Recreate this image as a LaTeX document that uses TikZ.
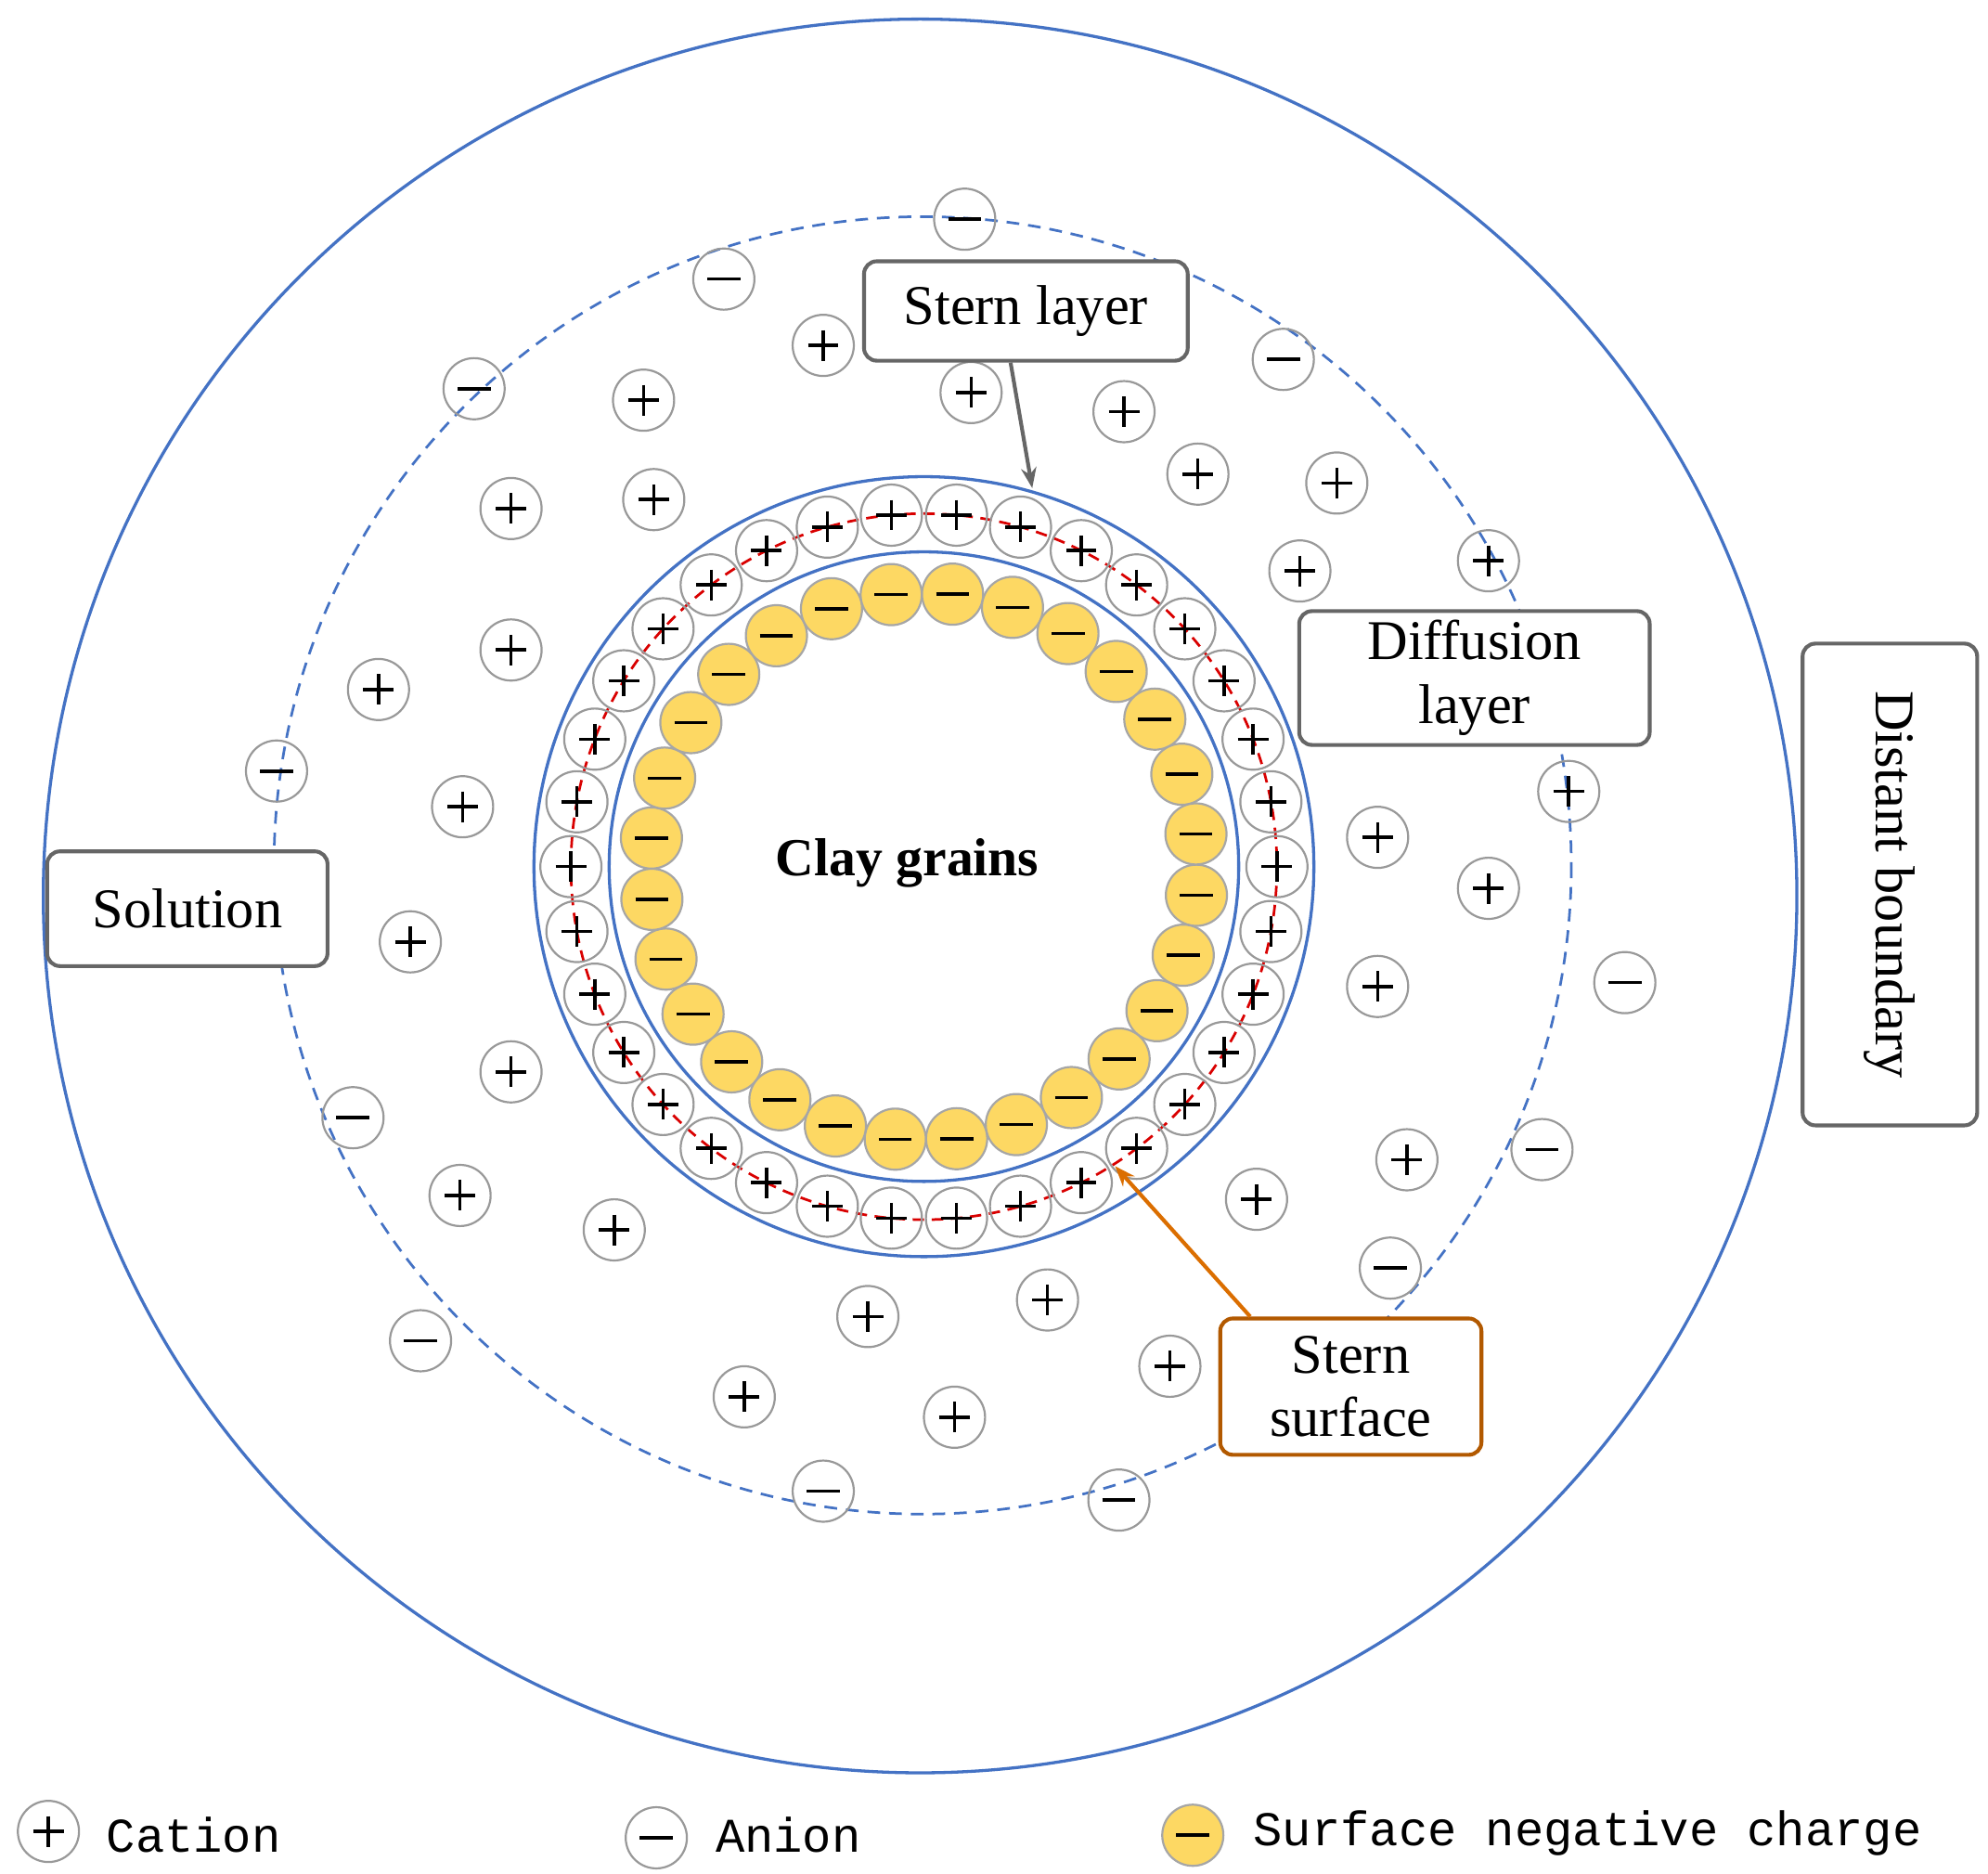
\documentclass[tikz,border=0pt]{standalone}
\usepackage{fontspec}
\usetikzlibrary{arrows.meta}
\setmainfont{Liberation Serif}
\newfontfamily\legfont{Liberation Mono}
\definecolor{bblue}{HTML}{4472C4}
\begin{document}
\begin{tikzpicture}[x=1pt,y=-1pt,
  ion/.style={circle,draw=gray!80,line width=1.6pt,minimum size=48pt,inner sep=0pt},
  surf/.style={circle,draw=gray!70,fill=yellow!55!orange!60,line width=1.6pt,minimum size=48pt,inner sep=0pt},
  sgn/.style={line width=2.6pt,black},
  bl/.style={draw=bblue,line width=2.4pt},
  lab/.style={draw=gray!80!black,rounded corners=10pt,line width=3pt,inner sep=6pt,font=\fontsize{44}{50}\selectfont,align=center}]
\newcommand\mycat[3]{\node[ion](#1) at ({#2},{#3}){};\draw[sgn] (#1.center)++(-12,0)--++(24,0) (#1.center)++(0,-12)--++(0,24);}
\newcommand\myan[3]{\node[ion](#1) at ({#2},{#3}){};\draw[sgn] (#1.center)++(-13,0)--++(26,0);}
\fill[white] (0,0) rectangle (1560,1470);
\useasboundingbox (0,0) rectangle (1560,1470);
\draw[bl] (722,703) circle[radius=688];
\draw[bl,line width=2pt,dash pattern=on 10pt off 7pt] (724,679) circle[radius=509];
\draw[bl] (725,680) circle[radius=306];
\draw[bl] (725,680) circle[radius=247];
\draw[red!85!black,line width=2pt,dash pattern=on 9pt off 6pt] (725,680) circle[radius=277];
\foreach \i in {0,...,33}{
  \pgfmathsetmacro\a{\i*360/34}
  \mycat{r\i}{725+277*cos(\a)}{680+277*sin(\a)}}
\foreach \i in {0,...,27}{
  \pgfmathsetmacro\a{\i*360/28+6}
  \node[surf](s\i) at ({725+215*cos(\a)},{680+215*sin(\a)}){};
  \draw[sgn] (s\i.center)++(-13,0)--++(26,0);}
\node[font=\bfseries\fontsize{42}{46}\selectfont] (clay) at (712,677) {Clay grains};
\foreach \n/\x/\y in {a1/757/172,a2/568/219,a3/372/305,a4/1007/282,a5/217/605,a6/1275/771,a7/277/877,a8/1210/902,a9/1091/995,a10/330/1052,a11/646/1170,a12/878/1177}{\myan{\n}{\x}{\y}}
\foreach \n/\x/\y in {c1/646/271,c2/762/308,c3/505/314,c4/882/323,c5/940/372,c6/1049/379,c7/401/399,c8/513/392,c9/1020/448,c10/1168/440,c11/401/510,c12/297/541,c13/1231/621,c14/363/633,c15/1081/657,c16/1168/697,c17/322/739,c18/1081/774,c19/401/841,c20/1104/910,c21/986/941,c22/361/938,c23/482/965,c24/822/1020,c25/681/1033,c26/918/1072,c27/584/1096,c28/749/1112}{\mycat{\n}{\x}{\y}}
\node[lab,fill=white,minimum width=254pt,minimum height=78pt] (stern) at (805,244) {Stern layer};
\node[lab,fill=white,minimum width=275pt,minimum height=105pt] (diff) at (1157,532) {Diffusion\\layer};
\node[lab,fill=white,minimum width=220pt,minimum height=90pt] (sol) at (147,713) {Solution};
\node[lab,fill=white,minimum width=378pt,minimum height=137pt,rotate=-90] (dist) at (1483,694) {Distant boundary};
\node[lab,draw=orange!70!black,fill=white,minimum width=205pt,minimum height=107pt] (ss) at (1060,1088) {Stern\\surface};
\coordinate (st) at (810,383);
\coordinate (sp) at (875,915);
\draw[gray!80!black,line width=3pt,-{Stealth[length=16pt]}] (stern.south)++(-12,0) -- (st);
\draw[orange!80!black!70!orange,line width=3pt,-{Stealth[length=16pt]}] (ss.north west)++(25,0) -- (sp);
\mycat{lc}{38}{1437}
\node[anchor=west,font=\legfont\fontsize{38}{46}\selectfont] (lct) at (80,1440) {Cation};
\myan{la}{515}{1442}
\node[anchor=west,font=\legfont\fontsize{38}{46}\selectfont] (lat) at (558,1440) {Anion};
\node[surf](ls) at (936,1440){};\draw[sgn] (ls.center)++(-13,0)--++(26,0);
\node[anchor=west,font=\legfont\fontsize{38}{46}\selectfont] (lst) at (980,1438) {Surface negative charge};
\end{tikzpicture}
\end{document}
